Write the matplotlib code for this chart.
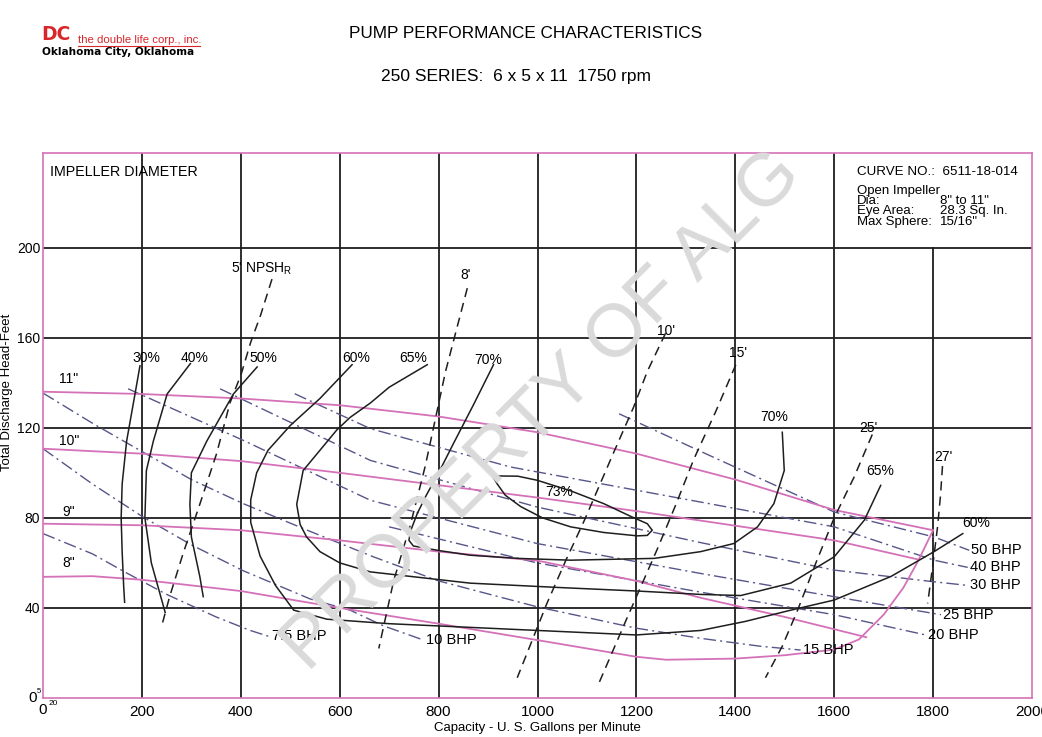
import matplotlib
matplotlib.use('Agg')
import matplotlib.pyplot as plt

plt.rcParams['font.family'] = ['Liberation Sans', 'DejaVu Sans']

# impeller head curves (gpm, feet)
imp11_q = [0, 200, 400, 600, 800, 1000, 1200, 1400, 1600, 1800]
imp11_h = [136, 135, 133, 130, 125, 118, 108.5, 97, 83.5, 74.5]
imp10_q = [0, 200, 400, 600, 800, 1000, 1200, 1400, 1600, 1770]
imp10_h = [110.7, 108.5, 105.2, 100, 94.5, 89, 83, 76.5, 70, 61.5]
imp9_q = [0, 200, 400, 600, 800, 1000, 1200, 1330, 1500, 1665]
imp9_h = [77.4, 76.7, 74.5, 70, 65, 61, 52, 44.5, 36, 27]
imp8_q = [0, 100, 200, 400, 600, 800, 1000, 1200, 1260, 1400, 1500, 1600,
          1650, 1700, 1740, 1770, 1800]
imp8_h = [53.8, 54.1, 52.5, 47.5, 40, 33, 25.7, 18.3, 17, 17.5, 19, 21.5,
          26, 37, 49, 61, 74.5]
imp_labels = ['11"', '10"', '9"', '8"']

# efficiency curves
eff30_q = [196, 186, 169, 160, 158, 160, 163, 165]
eff30_h = [147.5, 135, 114, 95, 80, 65, 50, 42.5]
eff40_q = [298, 251, 223, 209, 206, 219, 247]
eff40_h = [148.5, 135, 114, 101, 80, 60, 38]
eff50_q = [433, 385, 331, 300, 297, 300, 317, 324]
eff50_h = [147, 135, 114, 100, 86, 71.5, 54, 45]
eff60_q = [625, 560, 500, 455, 432, 420, 420, 439, 470, 507, 574, 700, 850,
           1000, 1200, 1330, 1420, 1512, 1600, 1715, 1802, 1860]
eff60_h = [148, 133, 121, 110, 100, 88, 78, 63, 50, 39, 35, 33, 31.5,
           30, 28, 30, 34, 39, 43.5, 54, 65, 73]
eff65_q = [777, 700, 662, 621, 594, 560, 526, 513, 520, 533, 560, 600, 662,
           864, 1050, 1202, 1330, 1411, 1512, 1600, 1661, 1694]
eff65_h = [148, 138, 131, 124.6, 119, 110, 101, 86, 77, 71.5, 65, 60, 56,
           51, 49, 47.5, 46, 45.5, 51, 62.7, 79, 94.4]
eff70_q = [911, 870, 830, 800, 775, 757, 743, 740, 749, 800, 864, 960, 1067,
           1236, 1330, 1397, 1445, 1478, 1499, 1495]
eff70_h = [148, 130, 113, 100, 90, 82, 74, 70, 67.5, 65.5, 63.4, 62, 61.2,
           62, 65, 68.6, 76, 86.3, 101, 118]
eff73_q = [912, 918, 960, 999, 1067, 1134, 1190, 1222, 1232, 1222, 1202, 1134,
           1067, 1010, 966, 935, 918, 912]
eff73_h = [97.5, 98.6, 98.5, 96.7, 92, 86.3, 80.5, 77.4, 74.5, 72.2, 72, 73.5,
           76, 80, 85, 90, 95.2, 97.5]

# NPSHr curves
npsh5_q = [463, 440, 420, 401, 378, 351, 317, 283, 256, 240]
npsh5_h = [186, 170, 158, 144, 131, 108.5, 86, 64, 45, 32]
npsh8_q = [858, 814, 773, 743, 709, 679]
npsh8_h = [182, 145, 103, 77, 52, 22]
npsh10_q = [1259, 1222, 1194, 1152, 1095, 1057, 1019, 959]
npsh10_h = [162, 145, 129, 108, 79, 61, 42, 9]
npsh15_q = [1401, 1360, 1316, 1280, 1242, 1180, 1121]
npsh15_h = [148, 127, 106, 86, 66, 35, 5]
npsh25_q = [1677, 1640, 1600, 1563, 1526, 1495, 1461]
npsh25_h = [117, 98, 80, 60, 39, 23, 9]
npsh27_q = [1819, 1815, 1809, 1800, 1789]
npsh27_h = [103, 90, 76, 60, 42]

# brake horsepower curves
bhp7_q = [0, 100, 165, 250, 350, 419, 459]
bhp7_h = [73, 64, 56, 46, 36, 30, 27.2]
bhp10_q = [0, 100, 202, 300, 405, 540, 621, 689, 770]
bhp10_h = [110.7, 95, 80.4, 68, 56.5, 44, 39, 32, 25.7]
bhp15_q = [0, 100, 202, 300, 405, 540, 668, 800, 999, 1200, 1330, 1450, 1532]
bhp15_h = [135.4, 122, 109.2, 97, 86.3, 74, 62.7, 52, 40.5, 31, 26.5, 23, 21.3]
bhp20_q = [700, 999, 1330, 1600, 1785]
bhp20_h = [76, 60, 47, 37, 28]
bhp25_q = [172, 405, 662, 999, 1330, 1600, 1816]
bhp25_h = [137.3, 114.4, 87.8, 68.6, 55.3, 45, 37]
bhp30_q = [358, 662, 999, 1330, 1600, 1802, 1870]
bhp30_h = [137.3, 105.5, 84.8, 69, 56.8, 51.6, 50]
bhp40_q = [509, 662, 945, 1330, 1600, 1802, 1870]
bhp40_h = [135.1, 119.6, 102.6, 87, 76, 61.2, 58]
bhp50_q = [1165, 1330, 1445, 1600, 1802, 1873]
bhp50_h = [126.2, 109.5, 98, 82.6, 71.5, 65.6]

pink = '#d471b8'
slate = '#56568a'
ink = '#1e1e1e'
red = '#d8262b'

fig = plt.figure(figsize=(10.42, 7.37), dpi=100)
ax = fig.add_axes([0.0413, 0.0529, 0.9491, 0.7395])
ax.set_xlim(0, 2000)
ax.set_ylim(0, 242)

# grid
for gx in range(200, 1800, 200):
    ax.axvline(gx, color=ink, lw=1.3, zorder=1)
ax.plot([1800, 1800], [0, 200], color=ink, lw=1.3, zorder=1)
for gy in range(40, 240, 40):
    ax.axhline(gy, color=ink, lw=1.3, zorder=1)

for s in ax.spines.values():
    s.set_color(pink)
    s.set_linewidth(1.2)

ax.set_xticks(range(200, 2001, 200))
ax.set_xticklabels([str(v) for v in range(200, 2001, 200)], fontsize=11)
ax.set_yticks(range(40, 201, 40))
ax.set_yticklabels([str(v) for v in range(40, 201, 40)], fontsize=10)
ax.tick_params(length=0, pad=5)
ax.tick_params(axis='y', pad=2)
ax.text(-22, 0, '0', fontsize=11, ha='center', va='center', clip_on=False)
ax.text(-8, 2.8, '5', fontsize=5.5, ha='center', va='center', clip_on=False)
ax.text(0, -5.5, '0', fontsize=11, ha='center', va='center', clip_on=False)
ax.text(20, -2.3, '20', fontsize=6, ha='center', va='center', clip_on=False)
ax.set_xlabel('Capacity - U. S. Gallons per Minute', fontsize=9.5, labelpad=2)
ax.set_ylabel('Total Discharge Head-Feet', fontsize=9.5)
ax.yaxis.set_label_coords(-0.0305, 0.56)

# impeller curves
for q, h in [(imp11_q, imp11_h), (imp10_q, imp10_h), (imp9_q, imp9_h), (imp8_q, imp8_h)]:
    ax.plot(q, h, color=pink, lw=1.3, zorder=3)
for lab, y in zip(imp_labels, [141.5, 114, 82.5, 60]):
    ax.text(52, y, lab, fontsize=10, ha='center', va='center')

# bhp curves
bhp = [(bhp7_q, bhp7_h), (bhp10_q, bhp10_h), (bhp15_q, bhp15_h), (bhp20_q, bhp20_h),
       (bhp25_q, bhp25_h), (bhp30_q, bhp30_h), (bhp40_q, bhp40_h), (bhp50_q, bhp50_h)]
for q, h in bhp:
    ax.plot(q, h, color=slate, lw=1.0, dashes=(9, 3, 1.5, 3), zorder=2)
bhp_txt = [('7.5 BHP', 463, 27.5), ('10 BHP', 775, 25.7), ('15 BHP', 1536, 21.3),
           ('20 BHP', 1789, 27.8), ('25 BHP', 1820, 36.8), ('30 BHP', 1874, 50),
           ('40 BHP', 1874, 58.2), ('50 BHP', 1877, 65.6)]
for t, x, y in bhp_txt:
    ax.text(x, y, t, fontsize=10.5, ha='left', va='center')

# efficiency curves
for q, h in [(eff30_q, eff30_h), (eff40_q, eff40_h), (eff50_q, eff50_h), (eff60_q, eff60_h),
             (eff65_q, eff65_h), (eff70_q, eff70_h), (eff73_q, eff73_h)]:
    ax.plot(q, h, color=ink, lw=1.1, zorder=4)
eff_txt = [('30%', 208, 151), ('40%', 306, 151), ('50%', 446, 151), ('60%', 633, 151),
           ('65%', 748, 151), ('70%', 900, 150), ('73%', 1043, 91.5), ('70%', 1478, 124.6),
           ('65%', 1694, 101), ('60%', 1887, 77.6)]
for t, x, y in eff_txt:
    ax.text(x, y, t, fontsize=10, ha='center', va='center')

# npsh curves
for q, h in [(npsh5_q, npsh5_h), (npsh8_q, npsh8_h), (npsh10_q, npsh10_h),
             (npsh15_q, npsh15_h), (npsh25_q, npsh25_h), (npsh27_q, npsh27_h)]:
    ax.plot(q, h, color=ink, lw=1.1, dashes=(6, 4), zorder=4)
npsh_txt = [("5' NPSH$_\\mathregular{R}$", 442, 190.5), ("8'", 854, 188), ("10'", 1259, 163),
            ("15'", 1406, 153), ("25'", 1670, 120), ("27'", 1820, 107)]
for t, x, y in npsh_txt:
    ax.text(x, y, t, fontsize=10, ha='center', va='center')

ax.text(14, 233.5, 'IMPELLER DIAMETER', fontsize=10.3, ha='left', va='center')
ax.text(1646, 233.5, 'CURVE NO.:  6511-18-014', fontsize=9.6, ha='left', va='center')
info = [('Open Impeller', ''), ('Dia:', '8" to 11"'), ('Eye Area:', '28.3 Sq. In.'),
        ('Max Sphere:', '15/16"')]
for i, (k, v) in enumerate(info):
    y = 225.3 - i * 4.6
    ax.text(1646, y, k, fontsize=9.5, ha='left', va='center')
    ax.text(1814, y, v, fontsize=9.5, ha='left', va='center')

# watermark
fig.text(0.52, 0.443, 'PROPERTY OF ALG', fontsize=54, color='#dadada', rotation=45,
         ha='center', va='center', rotation_mode='anchor', zorder=10)

# header
fig.text(526 / 1042, 1 - 33 / 737, 'PUMP PERFORMANCE CHARACTERISTICS', fontsize=12.3,
         ha='center', va='center')
fig.text(516 / 1042, 1 - 76 / 737, '250 SERIES:  6 x 5 x 11  1750 rpm', fontsize=12.5,
         ha='center', va='center')
fig.text(41 / 1042, 1 - 35 / 737, 'DC', fontsize=13.5, fontweight='bold', color=red,
         ha='left', va='center', family='DejaVu Sans')
fig.text(78 / 1042, 1 - 40 / 737, 'the double life corp., inc.', fontsize=8.2, color=red,
         ha='left', va='center')
fig.add_artist(plt.Line2D([78 / 1042, 200 / 1042], [1 - 45.5 / 737, 1 - 45.5 / 737],
                          color=red, lw=0.8))
fig.text(42 / 1042, 1 - 52 / 737, 'Oklahoma City, Oklahoma', fontsize=7.6, fontweight='bold',
         ha='left', va='center', family='DejaVu Sans')

fig.savefig('out.png', dpi=100)
